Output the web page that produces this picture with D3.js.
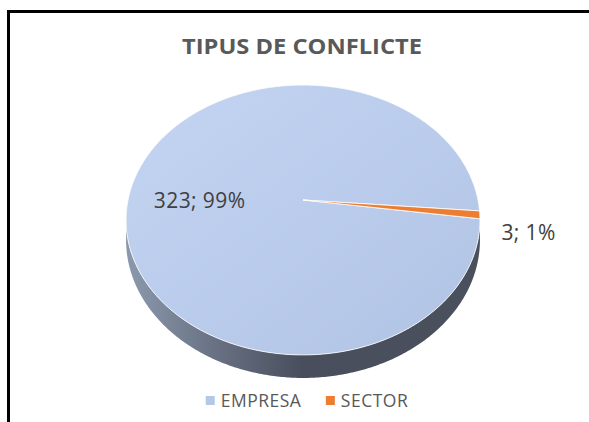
<!DOCTYPE html>
<html>
<head>
<meta charset="utf-8">
<script src="https://d3js.org/d3.v7.min.js"></script>
<style>
  body { margin: 0; background: #fff; overflow: hidden; }
  svg { display: block; }
</style>
</head>
<body>
<div id="chart"></div>
<script>
// data
var categories = ["EMPRESA", "SECTOR"];
var values = [323, 3];
var percents = ["99%", "1%"];
var colors = ["#b4c7e7", "#ed7d31"];
var title = "TIPUS DE CONFLICTE";

var svgWidth = 589;
var svgHeight = 422;

var svg = d3.select("#chart")
  .append("svg")
  .attr("width", svgWidth)
  .attr("height", svgHeight);

var defs = svg.append("defs");

// top face gradient
var topGrad = defs.append("linearGradient")
  .attr("id", "topGrad")
  .attr("x1", "0%").attr("y1", "0%")
  .attr("x2", "100%").attr("y2", "100%");
topGrad.append("stop").attr("offset", "0%").attr("stop-color", "#c4d5f3");
topGrad.append("stop").attr("offset", "100%").attr("stop-color", "#b1c3e4");

// side gradient
var sideGrad = defs.append("linearGradient")
  .attr("id", "sideGrad")
  .attr("x1", "0%").attr("y1", "0%")
  .attr("x2", "100%").attr("y2", "0%");
sideGrad.append("stop").attr("offset", "0%").attr("stop-color", "#8c99ad");
sideGrad.append("stop").attr("offset", "30%").attr("stop-color", "#626a7c");
sideGrad.append("stop").attr("offset", "50%").attr("stop-color", "#484e5c");
sideGrad.append("stop").attr("offset", "100%").attr("stop-color", "#4b505d");

// frame (only top and left edges are in view)
svg.append("line")
  .attr("x1", 8.5).attr("y1", 10)
  .attr("x2", 8.5).attr("y2", 422)
  .attr("stroke", "#000")
  .attr("stroke-width", 3);
svg.append("line")
  .attr("x1", 7).attr("y1", 11.5)
  .attr("x2", 589).attr("y2", 11.5)
  .attr("stroke", "#000")
  .attr("stroke-width", 3);

// title
svg.append("text")
  .attr("x", 302)
  .attr("y", 54)
  .attr("text-anchor", "middle")
  .attr("textLength", 240)
  .attr("lengthAdjust", "spacingAndGlyphs")
  .style("font-family", "'Open Sans', sans-serif")
  .style("font-weight", "bold")
  .style("font-size", "22px")
  .attr("fill", "#595959")
  .text(title);

// projection for tilted pie (perspective)
var cx = 303, cy = 200, rx = 175, ry = 132, k = 0.148, depth = 19.6;
function proj(theta, r, down) {
  var u = Math.sin(theta) * r;
  var v = -Math.cos(theta) * r;
  var den = 1 - k * v;
  return [cx + rx * u / den, cy + ry * v / den + (down ? depth / den : 0)];
}

var rot = 98 * Math.PI / 180;
var pie = d3.pie().sort(null)
  .startAngle(rot)
  .endAngle(rot + 2 * Math.PI);
var arcs = pie(values);

var line = d3.line();

function rimPoints(a0, a1, down) {
  var n = Math.max(2, Math.ceil(Math.abs(a1 - a0) / 0.01));
  var pts = [];
  for (var i = 0; i <= n; i++) {
    pts.push(proj(a0 + (a1 - a0) * i / n, 1, down));
  }
  return pts;
}

// side (front half, between left and right silhouette)
var sideStart = Math.PI - Math.acos(k);
var sideEnd = Math.PI + Math.acos(k);
var sidePts = rimPoints(sideStart, sideEnd, false)
  .concat(rimPoints(sideEnd, sideStart, true));
svg.append("path")
  .attr("d", line(sidePts) + "Z")
  .attr("fill", "url(#sideGrad)");

// top slices
svg.selectAll("path.slice")
  .data(arcs)
  .enter()
  .append("path")
  .attr("class", "slice")
  .attr("d", function(d) {
    var pts = [[cx, cy]].concat(rimPoints(d.startAngle, d.endAngle, false));
    return line(pts) + "Z";
  })
  .attr("fill", function(d, i) { return i === 0 ? "url(#topGrad)" : colors[i]; })
  .attr("stroke", "#fff")
  .attr("stroke-width", 0.8)
  .attr("stroke-linejoin", "round");

// data labels
var labelR = [0.6, 1.27];
var labelDy = [10, 14];
svg.selectAll("text.lbl")
  .data(arcs)
  .enter()
  .append("text")
  .attr("class", "lbl")
  .attr("x", function(d, i) { return proj((d.startAngle + d.endAngle) / 2, labelR[i], false)[0]; })
  .attr("y", function(d, i) { return proj((d.startAngle + d.endAngle) / 2, labelR[i], false)[1] + labelDy[i] + 7; })
  .attr("text-anchor", "middle")
  .style("font-family", "'Open Sans', sans-serif")
  .style("font-size", "21px")
  .style("letter-spacing", "0.4px")
  .attr("fill", "#404040")
  .text(function(d, i) { return values[i] + "; " + percents[i]; });

// legend
var legend = svg.append("g").attr("transform", "translate(0, 401)");
var legItems = legend.selectAll("g")
  .data(categories)
  .enter()
  .append("g");
legItems.append("rect")
  .attr("width", 9)
  .attr("height", 9)
  .attr("y", -5)
  .attr("fill", function(d, i) { return colors[i]; });
legItems.append("text")
  .attr("x", 15)
  .attr("y", 6)
  .style("font-family", "'Open Sans', sans-serif")
  .style("font-size", "17.5px")
  .style("letter-spacing", "0.5px")
  .attr("fill", "#595959")
  .text(function(d) { return d; });

var widths = [];
legItems.each(function() { widths.push(this.getBBox().width); });
var gap = 24;
var total = d3.sum(widths) + gap * (widths.length - 1);
var xPos = 307 - total / 2;
legItems.attr("transform", function(d, i) {
  var x = xPos;
  xPos += widths[i] + gap;
  return "translate(" + x + ",0)";
});
</script>
</body>
</html>
